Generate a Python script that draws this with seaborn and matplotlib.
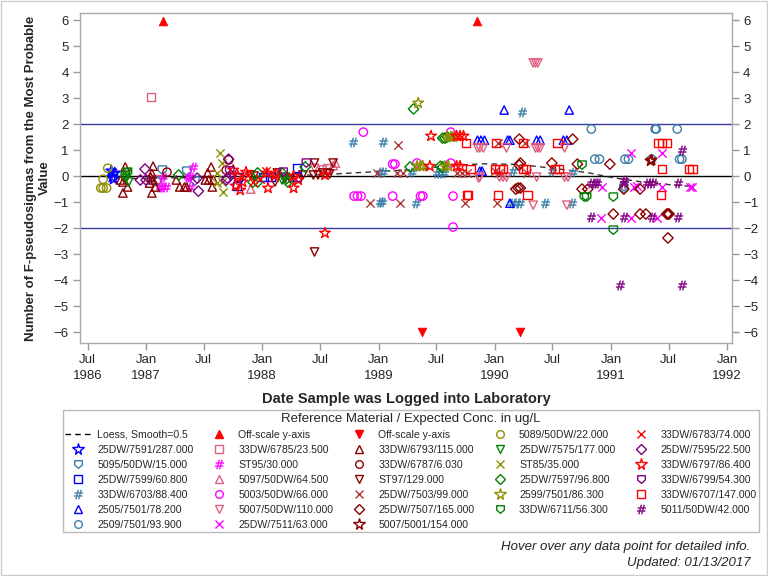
import pandas as pd
import numpy as np
import seaborn as sns
import matplotlib.pyplot as plt
from matplotlib.lines import Line2D
from matplotlib.patches import Rectangle

# values: decimal year of log date, F-pseudosigmas
loess_yr = [1986.88, 1987.2, 1987.5, 1988.0, 1988.5, 1988.9, 1989.3, 1989.6, 1989.9,
            1990.2, 1990.5, 1990.8, 1991.0, 1991.3, 1991.55, 1991.7]
loess_val = [-0.1, -0.07, -0.05, -0.02, 0.05, 0.15, 0.25, 0.4, 0.47,
             0.45, 0.3, 0.13, -0.05, -0.25, -0.35, -0.4]

offup_yr = [1987.15, 1989.85]
offup_val = [5.96, 5.96]
offdn_yr = [1989.37, 1990.22]
offdn_val = [-6.0, -6.0]

dw7591_yr = [1986.70, 1986.71, 1986.72, 1986.73, 1986.72]
dw7591_val = [0.2, -0.04, 0.08, 0.12, -0.12]

s5095_yr = [1987.14, 1987.10, 1987.35, 1987.42, 1987.09]
s5095_val = [0.23, -0.19, 0.19, -0.19, -0.23]

dw7599_yr = [1987.78, 1987.79, 1988.01, 1988.07, 1988.30, 1988.30]
dw7599_val = [-0.38, -0.04, -0.04, -0.04, 0.31, -0.04]

dw6703_yr = [1988.78, 1989.04, 1989.01, 1989.04, 1989.01, 1989.03, 1989.29, 1989.50, 1989.53,
             1989.56, 1989.32, 1990.15, 1990.18, 1990.22, 1990.43, 1990.66, 1990.16, 1990.49,
             1990.67, 1990.23]
dw6703_val = [1.31, 1.31, 0.15, 0.15, -1.0, -1.0, 0.15, 0.12, 0.12,
              0.12, -1.04, -1.04, -1.04, -1.04, -1.04, -1.04, 0.19, 0.19,
              0.15, 2.46]

s2505_yr = [1990.08, 1990.64, 1989.85, 1989.88, 1989.91, 1990.11, 1990.13, 1990.36, 1990.39,
            1990.59, 1990.62, 1989.87, 1989.89, 1990.13]
s2505_val = [2.54, 2.54, 1.38, 1.38, 1.38, 1.38, 1.38, 1.38, 1.38,
             1.38, 1.38, 0.19, 0.19, -1.04]

s2509_yr = [1990.83, 1991.38, 1991.39, 1991.57, 1990.86, 1990.90, 1991.12, 1991.15, 1991.35,
            1991.59, 1991.61, 1991.11, 1991.11]
s2509_val = [1.81, 1.81, 1.81, 1.81, 0.65, 0.65, 0.65, 0.65, 0.65,
             0.65, 0.65, -0.46, -0.38]

dw6785_yr = [1987.04, 1987.08, 1988.56]
dw6785_val = [3.04, -0.12, 0.3]

st95_yr = [1987.40, 1987.36, 1987.38, 1987.12, 1987.14, 1987.17, 1987.38, 1987.15]
st95_val = [0.35, -0.04, -0.04, -0.42, -0.42, -0.42, -0.42, -0.04]

s5097_yr = [1987.90, 1988.63, 1988.61]
s5097_val = [-0.5, 0.5, 0.4]

s5003_yr = [1988.87, 1989.12, 1989.14, 1988.79, 1988.82, 1988.85, 1989.12, 1989.33, 1989.36,
            1989.38, 1989.62, 1989.62, 1989.64, 1989.64]
s5003_val = [1.69, 0.46, 0.46, -0.77, -0.77, -0.77, -0.77, 0.5, -0.77,
             -0.77, 1.69, 0.5, -0.77, -1.96]

s5007_yr = [1990.33, 1990.35, 1990.37, 1989.85, 1989.87, 1989.90, 1990.10, 1990.35, 1990.37,
            1990.39, 1990.60, 1989.87, 1989.86, 1990.04, 1990.07, 1990.10, 1990.36, 1990.60,
            1990.63, 1990.33, 1990.62, 1988.45, 1988.52]
s5007_val = [4.35, 4.35, 4.35, 1.08, 1.08, 1.08, 1.08, 1.08, 1.08,
             1.08, 1.08, -0.04, -0.08, -0.04, -0.04, -0.04, -0.04, -0.04,
             -0.04, -1.12, -1.12, 0.3, 0.23]

dw7511_yr = [1990.92, 1991.17, 1991.20, 1991.44, 1991.44, 1991.68, 1991.70, 1990.91, 1991.17,
             1991.40, 1991.22]
dw7511_val = [-0.42, 0.88, -0.42, 0.88, -0.42, -0.42, -0.42, -1.62, -1.62,
              -1.62, -0.38]

dw6793_yr = [1986.82, 1986.80, 1986.78, 1986.80, 1986.84, 1987.06, 1987.05, 1987.03, 1987.06,
             1987.08, 1987.26, 1987.29, 1987.33, 1987.35, 1987.53, 1987.56, 1987.51, 1987.54,
             1987.58, 1987.57, 1987.05, 1987.04]
dw6793_val = [0.35, -0.65, -0.15, -0.23, -0.42, 0.38, -0.65, -0.27, -0.15,
              -0.42, -0.15, -0.42, -0.42, -0.42, 0.12, 0.35, -0.15, -0.15,
              -0.15, -0.42, 0.1, -0.04]

dw6787_yr = [1987.18, 1987.71, 1987.69]
dw6787_val = [0.15, 0.62, 0.23]

st97_yr = [1987.90, 1987.93, 1988.11, 1988.13, 1988.44, 1988.45, 1988.61, 1988.56, 1988.48,
           1988.45, 1988.20, 1988.24, 1988.35, 1988.52, 1988.58]
st97_val = [0.04, 0.0, -0.23, 0.12, 0.04, 0.5, 0.5, 0.12, 0.04,
            -2.92, -0.08, -0.1, 0.04, 0.12, 0.08]

dw7503_yr = [1989.17, 1988.99, 1989.16, 1989.21, 1988.93, 1989.18, 1989.74, 1990.02, 1990.03,
             1990.26, 1990.28, 1990.04, 1989.67, 1989.72, 1989.76, 1990.0]
dw7503_val = [1.19, 0.12, 0.12, 0.12, -1.04, -1.04, -1.04, -1.04, 1.27,
              1.27, 0.12, 0.12, 0.12, 0.12, 0.12, 0.2]

dw7507_yr = [1990.21, 1990.67, 1990.21, 1990.22, 1990.49, 1990.71, 1990.20, 1990.22, 1990.18,
             1990.99, 1990.75, 1990.80, 1991.11, 1991.25, 1991.02, 1991.25, 1991.30, 1991.48,
             1991.49, 1991.50, 1991.49]
dw7507_val = [1.42, 1.42, 0.42, 0.5, 0.5, 0.46, -0.46, -0.46, -0.5,
              0.46, -0.5, -0.5, -0.5, -0.5, -1.46, -1.46, -1.46, -1.46,
              -1.46, -1.46, -2.38]

s50075001_yr = [1991.34, 1991.35]
s50075001_val = [0.58, 0.62]

s5089_yr = [1986.61, 1986.63, 1986.66, 1986.63, 1986.67]
s5089_val = [-0.46, -0.46, -0.46, -0.12, 0.3]

dw7575_yr = [1986.83, 1986.85, 1988.17, 1988.20, 1986.84]
dw7575_val = [-0.08, -0.23, -0.15, -0.04, 0.15]

st85_yr = [1987.64, 1987.65, 1987.66, 1987.61, 1987.61, 1987.65]
st85_val = [0.88, 0.5, -0.62, 0.12, -0.27, -0.23]

dw7597_yr = [1987.96, 1987.92, 1987.96, 1988.17, 1988.22, 1988.37, 1988.21, 1989.27, 1989.30,
             1989.55, 1989.57, 1989.59, 1989.55, 1989.53, 1987.28]
dw7597_val = [0.12, -0.23, -0.23, 0.12, -0.23, 0.35, -0.1, 0.35, 2.58,
              1.46, 1.46, 1.5, 0.35, 0.38, 0.04]

s2599_yr = [1989.34, 1989.33, 1989.36, 1989.38, 1989.59, 1989.62, 1989.64, 1989.57, 1989.60]
s2599_val = [2.81, 0.38, 0.38, 0.38, 1.5, 1.5, 1.5, 0.38, 0.38]

dw6711_yr = [1990.75, 1990.77, 1990.79, 1991.02, 1991.02, 1986.84, 1986.82]
dw6711_val = [0.42, -0.81, -0.81, -0.81, -2.08, 0.12, 0.0]

dw6783_yr = [1987.88, 1987.92, 1987.98, 1988.03, 1988.10]
dw6783_val = [0.04, -0.23, -0.12, 0.2, -0.04]

dw7595_yr = [1986.99, 1986.95, 1987.0, 1987.45, 1987.44, 1987.71, 1987.70, 1987.73, 1987.69]
dw7595_val = [0.27, -0.15, -0.15, -0.58, -0.08, 0.65, -0.08, 0.04, -0.15]

dw6797_yr = [1987.75, 1987.79, 1987.83, 1987.81, 1987.86, 1987.77, 1988.04, 1988.05, 1988.27,
             1988.31, 1988.54, 1988.54, 1989.45, 1989.44, 1989.67, 1989.70, 1989.73, 1989.67,
             1989.70, 1988.12, 1988.27]
dw6797_val = [0.23, 0.0, -0.23, -0.54, 0.15, -0.38, 0.12, -0.46, -0.46,
              -0.15, 0.04, -2.19, 1.54, 0.38, 1.54, 1.54, 1.54, 0.38,
              0.38, 0.08, 0.0]

dw6799_yr = [1988.18, 1988.38, 1987.72]
dw6799_val = [0.15, 0.5, 0.2]

dw6707_yr = [1989.75, 1989.79, 1989.76, 1990.01, 1990.00, 1990.04, 1990.07, 1990.03, 1990.24,
             1990.24, 1990.27, 1990.28, 1990.54, 1990.52, 1990.55, 1991.41, 1991.44, 1991.48,
             1991.44, 1991.43, 1991.67, 1991.70, 1989.77]
dw6707_val = [1.27, 0.27, -0.73, 1.27, 0.27, 0.27, 0.27, -0.73, 1.27,
              0.27, 0.27, -0.73, 1.27, 0.27, 0.27, 1.27, 1.27, 1.27,
              0.27, -0.73, 0.27, 0.27, -0.73]

s5011_yr = [1990.83, 1990.86, 1990.88, 1991.11, 1991.11, 1991.31, 1991.34, 1991.36, 1991.58,
            1991.61, 1990.83, 1991.11, 1991.35, 1991.58, 1991.08, 1991.61]
s5011_val = [-0.27, -0.27, -0.27, -0.27, -0.15, -0.27, -0.27, -0.27, -0.27,
             1.0, -1.58, -1.58, -1.58, -1.58, -4.19, -4.19]


def to_date(yrs):
    out = []
    for y in yrs:
        yr = int(y)
        out.append(pd.Timestamp(yr, 1, 1) + pd.Timedelta(days=(y - yr) * 365.25))
    return out


BLUE = '#0000FF'
STEEL = '#3A7FAA'
PINK = '#E0607E'
MAG = '#FF00FF'
DRED = '#8B0000'
BRICK = '#B03A3A'
OLIVE = '#8F8F00'
GREEN = '#008000'
RED = '#FF0000'
PURP = '#800080'

shield = [(-1, 1), (1, 1), (1, -0.15), (0, -1), (-1, -0.15), (-1, 1)]
HASH = r'$\#$'

# label, x, y, colour, marker
series = [
    ('25DW/7591/287.000', dw7591_yr, dw7591_val, BLUE, '*'),
    ('5095/50DW/15.000', s5095_yr, s5095_val, STEEL, shield),
    ('25DW/7599/60.800', dw7599_yr, dw7599_val, BLUE, 's'),
    ('33DW/6703/88.400', dw6703_yr, dw6703_val, STEEL, HASH),
    ('2505/7501/78.200', s2505_yr, s2505_val, BLUE, '^'),
    ('2509/7501/93.900', s2509_yr, s2509_val, STEEL, 'o'),
    ('Off-scale y-axis', offup_yr, offup_val, RED, 'up'),
    ('33DW/6785/23.500', dw6785_yr, dw6785_val, PINK, 's'),
    ('ST95/30.000', st95_yr, st95_val, MAG, HASH),
    ('5097/50DW/64.500', s5097_yr, s5097_val, PINK, '^'),
    ('5003/50DW/66.000', s5003_yr, s5003_val, MAG, 'o'),
    ('5007/50DW/110.000', s5007_yr, s5007_val, PINK, 'v'),
    ('25DW/7511/63.000', dw7511_yr, dw7511_val, MAG, 'x'),
    ('Off-scale y-axis ', offdn_yr, offdn_val, RED, 'down'),
    ('33DW/6793/115.000', dw6793_yr, dw6793_val, DRED, '^'),
    ('33DW/6787/6.030', dw6787_yr, dw6787_val, DRED, 'o'),
    ('ST97/129.000', st97_yr, st97_val, DRED, 'v'),
    ('25DW/7503/99.000', dw7503_yr, dw7503_val, BRICK, 'x'),
    ('25DW/7507/165.000', dw7507_yr, dw7507_val, DRED, 'D'),
    ('5007/5001/154.000', s50075001_yr, s50075001_val, DRED, '*'),
    ('5089/50DW/22.000', s5089_yr, s5089_val, OLIVE, 'o'),
    ('25DW/7575/177.000', dw7575_yr, dw7575_val, GREEN, 'v'),
    ('ST85/35.000', st85_yr, st85_val, OLIVE, 'x'),
    ('25DW/7597/96.800', dw7597_yr, dw7597_val, GREEN, 'D'),
    ('2599/7501/86.300', s2599_yr, s2599_val, OLIVE, '*'),
    ('33DW/6711/56.300', dw6711_yr, dw6711_val, GREEN, shield),
    ('33DW/6783/74.000', dw6783_yr, dw6783_val, RED, 'x'),
    ('25DW/7595/22.500', dw7595_yr, dw7595_val, PURP, 'D'),
    ('33DW/6797/86.400', dw6797_yr, dw6797_val, RED, '*'),
    ('33DW/6799/54.300', dw6799_yr, dw6799_val, PURP, shield),
    ('33DW/6707/147.000', dw6707_yr, dw6707_val, RED, 's'),
    ('5011/50DW/42.000', s5011_yr, s5011_val, PURP, HASH),
]

sns.set_theme(style='white')
plt.rcParams['font.family'] = ['Liberation Sans', 'DejaVu Sans']

fig = plt.figure(figsize=(7.68, 5.76), dpi=100)
ax = fig.add_axes([0.104, 0.4045, 0.849, 0.5729])

ax.axhline(2, color='#3A3AA0', lw=1, zorder=1)
ax.axhline(-2, color='#3A3AA0', lw=1, zorder=1)
ax.axhline(0, color='black', lw=1, zorder=1)

sns.lineplot(x=to_date(loess_yr), y=loess_val, ax=ax, color='#333333', lw=1,
             linestyle=(0, (4, 3)), zorder=2)

handles = [Line2D([], [], color='black', lw=1, linestyle=(0, (4, 3)), label='Loess, Smooth=0.5')]


def style_of(color, marker):
    if marker == 'up':
        return dict(marker='^', facecolor=color, edgecolor=color, linewidth=0.5, s=40), \
            dict(marker='^', markerfacecolor=color, markeredgecolor=color, markersize=6)
    if marker == 'down':
        return dict(marker='v', facecolor=color, edgecolor=color, linewidth=0.5, s=40), \
            dict(marker='v', markerfacecolor=color, markeredgecolor=color, markersize=6)
    if marker == 'x':
        return dict(marker='x', color=color, linewidth=1.0, s=36), \
            dict(marker='x', color=color, markersize=6, markeredgewidth=1.0)
    if marker == HASH:
        return dict(marker=HASH, facecolor=color, edgecolor=color, linewidth=0.3, s=44), \
            dict(marker=HASH, color=color, markeredgewidth=0.3, markersize=6.5)
    size = 65 if marker == '*' else 36
    if marker == 'D':
        size = 28
    ms = 8.5 if marker == '*' else 5.5
    if marker == 'D':
        ms = 5
    return dict(marker=marker, facecolor='none', edgecolor=color, linewidth=1.0, s=size), \
        dict(marker=marker, markerfacecolor='none', markeredgecolor=color, markersize=ms,
             markeredgewidth=1.0)


for label, xs, ys, color, marker in series:
    skw, lkw = style_of(color, marker)
    sns.scatterplot(x=to_date(xs), y=ys, ax=ax, zorder=3, legend=False, **skw)
    handles.append(Line2D([], [], linestyle='none', label=label.strip(), **lkw))

ax.set_xlim(pd.Timestamp('1986-06-07'), pd.Timestamp('1992-01-16'))
ax.set_ylim(-6.42, 6.27)
ax.set_yticks(range(-6, 7))
ticks = pd.date_range('1986-07-01', '1992-01-01', freq='6MS')
ax.set_xticks(ticks)
ax.set_xticklabels([t.strftime('%b\n%Y') if t.month == 1 or t == ticks[0] else t.strftime('%b')
                    for t in ticks], linespacing=1.45)
ax.tick_params(axis='both', which='both', direction='out', length=5, width=1,
               color='#999999', labelsize=9.5, pad=3)
ax.tick_params(axis='y', left=True, right=True, labelleft=True, labelright=True)
ax.tick_params(axis='x', bottom=True, pad=3)
for sp in ax.spines.values():
    sp.set_color('#aaaaaa')
    sp.set_linewidth(1)

ax.set_xlabel('Date Sample was Logged into Laboratory', fontsize=10.5, fontweight='bold',
              labelpad=7)
ax.set_ylabel('Number of F-pseudosigmas from the Most Probable\nValue', fontsize=9.5,
              fontweight='bold', labelpad=2)

leg = fig.legend(handles=handles, loc='upper center', bbox_to_anchor=(0.535, 0.297), ncol=5,
                 title='Reference Material / Expected Conc. in ug/L', fontsize=7.6,
                 title_fontsize=9.5, frameon=True, fancybox=False, edgecolor='#aaaaaa',
                 handlelength=2.4, handletextpad=0.6, columnspacing=1.25, labelspacing=0.47,
                 borderpad=0.25)
leg.get_frame().set_linewidth(1)

fig.text(0.977, 0.046, 'Hover over any data point for detailed info.', ha='right',
         fontsize=9.5, style='italic')
fig.text(0.977, 0.018, 'Updated: 01/13/2017', ha='right', fontsize=9.5, style='italic')
fig.patches.append(Rectangle((0.001, 0.001), 0.998, 0.998, transform=fig.transFigure,
                             fill=False, edgecolor='#cccccc', lw=1))

fig.savefig('out.png', dpi=100)
